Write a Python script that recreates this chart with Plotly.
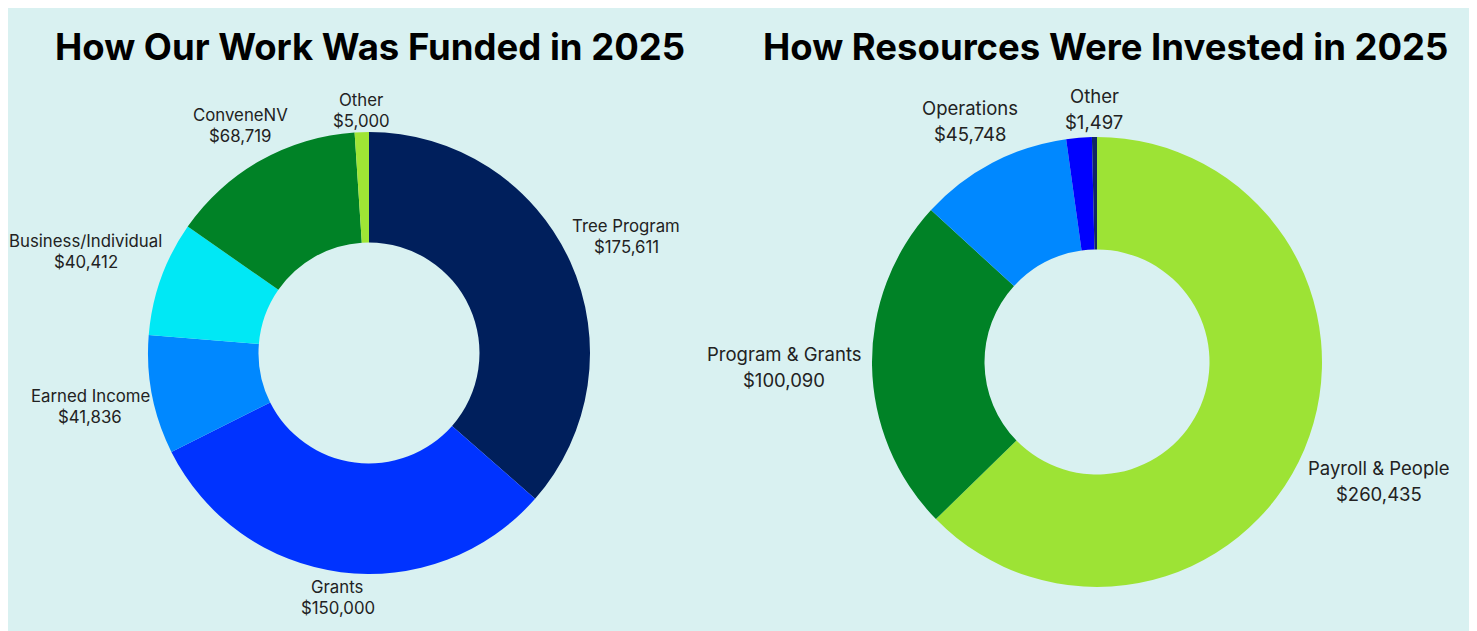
import math
import plotly.graph_objects as go

# ---------------- data ----------------
# Funding (left)
fund_labels = ["Tree Program", "Grants", "Earned Income", "Business/Individual", "ConveneNV", "Other"]
fund_values = [175611, 150000, 41836, 40412, 68719, 5000]
fund_colors = ["#001f5c", "#0033ff", "#0088ff", "#00e8f5", "#008226", "#9fe535"]
fund_show = [True, True, True, True, True, True]

# Investment (right)
inv_labels = ["Payroll & People", "Program & Grants", "Operations", "Unlabeled", "Other"]
inv_values = [260435, 100090, 45748, 7600, 1497]
inv_colors = ["#9de335", "#008226", "#0088ff", "#0000ff", "#0f2666"]
inv_show = [True, True, True, False, True]

titles = ["How Our Work Was Funded in 2025", "How Resources Were Invested in 2025"]

# ---------------- layout constants (screen pixels) ----------------
W, H = 1466, 624
OX, OY = 8, 8          # page offset of the figure
BG = "#d9f1f1"
FONT = "Inter"
TXT = "#222222"

charts = [
    dict(labels=fund_labels, values=fund_values, colors=fund_colors, show=fund_show,
         cx=369, cy=353, r=221, size=16.8, spacing=21, gap=2, title_x=370),
    dict(labels=inv_labels, values=inv_values, colors=inv_colors, show=inv_show,
         cx=1097, cy=362, r=225, size=18.5, spacing=26, gap=5, title_x=1105),
]

# rough per-character advance widths (em) for text-box estimates
NARROW = set("il1,.I/'|!:;j")
WIDE = set("mwMW&")


def text_w(s, size):
    w = 0
    for c in s:
        if c in NARROW:
            w += 0.32
        elif c in WIDE:
            w += 0.82
        elif c.isupper():
            w += 0.66
        elif c.isdigit() or c == "$":
            w += 0.6
        elif c == " ":
            w += 0.27
        else:
            w += 0.54
    return w * size


def px(sx):
    return (sx - OX) / W


def py(sy):
    return 1 - (sy - OY) / H


fig = go.Figure()

for ch in charts:
    cx, cy, r = ch["cx"], ch["cy"], ch["r"]
    fig.add_trace(go.Pie(
        labels=ch["labels"], values=ch["values"],
        textinfo="none", hole=0.5, sort=False,
        direction="clockwise", rotation=0,
        marker=dict(colors=ch["colors"], line=dict(width=0)),
        domain=dict(x=[px(cx - r), px(cx + r)], y=[py(cy + r), py(cy - r)]),
        showlegend=False,
        hovertemplate="%{label}<br>$%{value:,}<extra></extra>",
    ))

    # outside labels, centred on each slice's mid-angle ray, just clear of the ring
    total = sum(ch["values"])
    cum = 0
    for lab, val, show in zip(ch["labels"], ch["values"], ch["show"]):
        mid = (cum + val / 2) / total * 2 * math.pi
        cum += val
        if not show:
            continue
        vtxt = f"${val:,}"
        ux, uy = math.sin(mid), -math.cos(mid)
        hw = max(text_w(lab, ch["size"]), text_w(vtxt, ch["size"])) / 2
        hh = (ch["spacing"] + ch["size"]) / 2
        dist = r + ch["gap"] + abs(hw * ux) + abs(hh * uy)
        lx, ly = cx + dist * ux, cy + dist * uy
        for t, yy in ((lab, ly - ch["spacing"] / 2), (vtxt, ly + ch["spacing"] / 2)):
            fig.add_annotation(text=t, x=px(lx), y=py(yy), xref="paper", yref="paper",
                               showarrow=False, xanchor="center", yanchor="middle",
                               font=dict(size=ch["size"], color=TXT, family=FONT))

for ch, t in zip(charts, titles):
    fig.add_annotation(text=f"<b>{t}</b>", x=px(ch["title_x"]), y=py(47),
                       xref="paper", yref="paper", showarrow=False,
                       xanchor="center", yanchor="middle",
                       font=dict(size=36.5, color="#000000", family=FONT))

fig.update_layout(width=W, height=H, margin=dict(l=0, r=0, t=0, b=0),
                  paper_bgcolor=BG, plot_bgcolor=BG, font=dict(family=FONT))
fig.write_html("out.html")
